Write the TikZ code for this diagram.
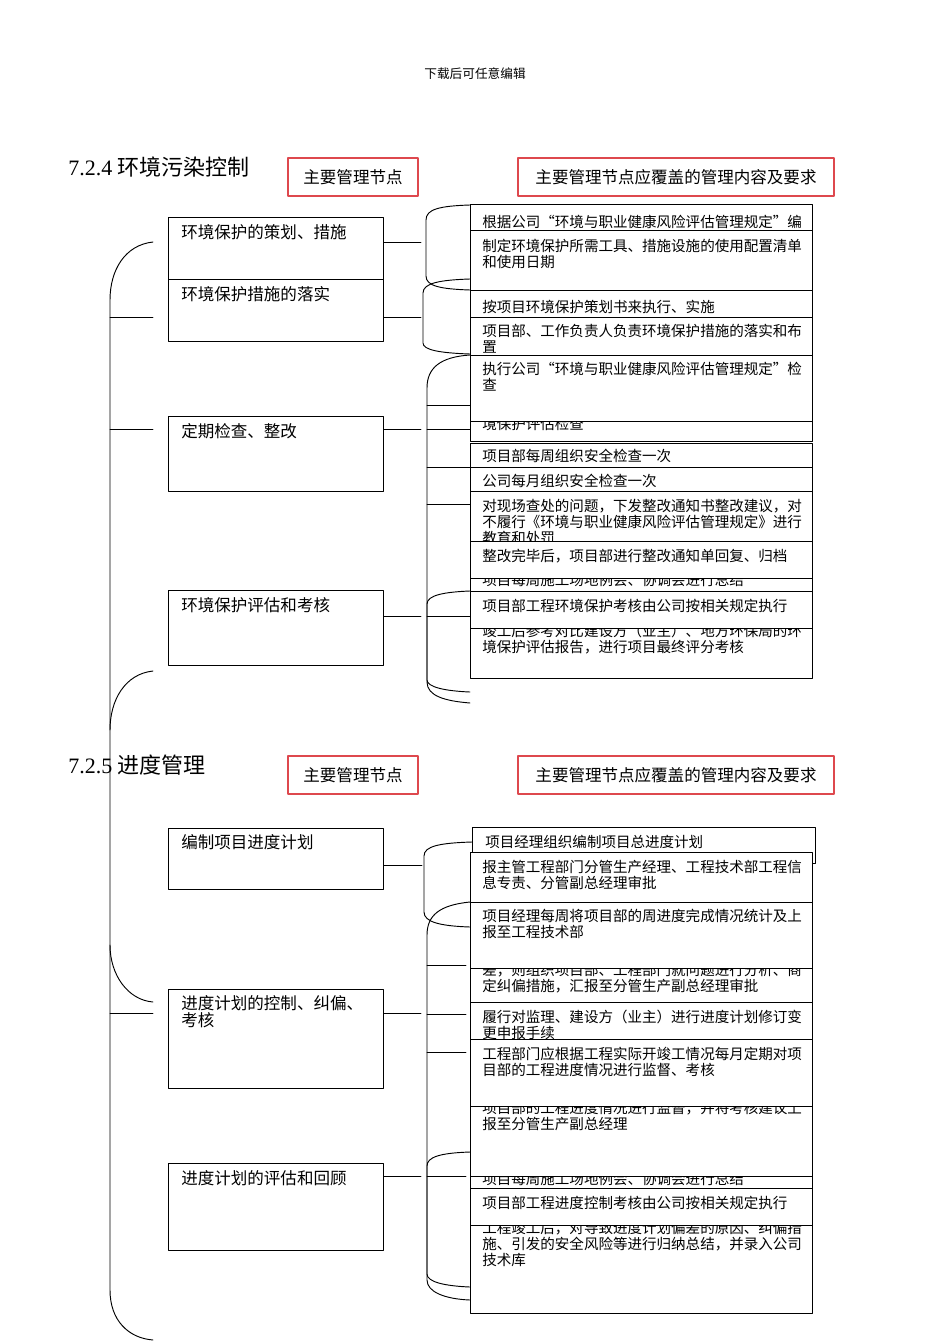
\documentclass[tikz,border=0pt]{standalone}
\usepackage{fontspec}
\setmainfont{Liberation Serif}
\newfontfamily\cjk{Noto Sans CJK SC}
\definecolor{headred}{RGB}{222,72,78}

% one box of the right-hand column: name, top, bottom, baseline, text
\newcommand\itembox[5]{%
  \draw[frame, fill=white] (470,#2) rectangle (812,#3);
  \node[itemtext] (#1) at (482,#4) {#5};}

\begin{document}
\begin{tikzpicture}[x=.75pt, y=-.75pt, line cap=round, line join=round,
  every node/.style={inner sep=0pt},
  frame/.style={line width=.7pt},
  headbox/.style={draw=headred, line width=.8pt, minimum height=28.5pt, font=\cjk\fontsize{12.4}{14}\selectfont},
  mainbox/.style={draw, line width=.7pt, anchor=north west, minimum width=161.25pt},
  nodetext/.style={anchor=base west, align=left, text width=150pt, font=\cjk\fontsize{12.4}{12.75}\selectfont},
  itemtext/.style={anchor=base west, align=left, text width=252pt, font=\cjk\fontsize{10.9}{12}\selectfont},
  title/.style={anchor=base west, font=\fontsize{16.5}{18}\selectfont}]
  \useasboundingbox[fill=white] (0,0) rectangle (950,1344);

  \node[font=\cjk\fontsize{9.5}{11}\selectfont] (note) at (475,74) {下载后可任意编辑};

  % 7.2.4
  \node[title] (secA) at (68,176) {7.2.4 {\cjk 环境污染控制}};
  \node[headbox, minimum width=97.5pt] (headA) at (353,177) {主要管理节点};
  \node[headbox, minimum width=237pt] (reqA) at (676,177) {主要管理节点应覆盖的管理内容及要求};

  \node[mainbox, minimum height=46.5pt] (envPlan) at (168,217) {};
  \node[nodetext] at (181,238.3) {环境保护的策划、措施};
  \node[mainbox, minimum height=46.5pt] (envDo) at (168,279) {};
  \node[nodetext] at (181,300.3) {环境保护措施的落实};
  \node[mainbox, minimum height=56.25pt] (envCheck) at (168,416) {};
  \node[nodetext] at (181,437.3) {定期检查、整改};
  \node[mainbox, minimum height=56.25pt] (envEval) at (168,590) {};
  \node[nodetext] at (181,611.3) {环境保护评估和考核};

  \itembox{planRule}{204}{240}{227.5}{根据公司“环境与职业健康风险评估管理规定”编}
  \itembox{planTools}{230}{297}{251.5}{制定环境保护所需工具、措施设施的使用配置清单\\和使用日期}
  \itembox{doExec}{290}{325}{312.5}{按项目环境保护策划书来执行、实施}
  \itembox{doStaff}{317}{365}{336.5}{项目部、工作负责人负责环境保护措施的落实和布\\置}
  \itembox{chkEval}{400}{441}{429.5}{境保护评估检查}
  \itembox{chkRule}{355}{421}{374.5}{执行公司“环境与职业健康风险评估管理规定”检\\查}
  \itembox{chkWeek}{443}{467}{461.5}{项目部每周组织安全检查一次}
  \itembox{chkMonth}{467}{491}{486.5}{公司每月组织安全检查一次}
  \itembox{chkIssue}{491}{551}{511.5}{对现场查处的问题，下发整改通知书整改建议，对\\不履行《环境与职业健康风险评估管理规定》进行\\教育和处罚}
  \itembox{chkMeet}{560}{591}{585.5}{项目每周施工场地例会、协调会进行总结}
  \itembox{chkClose}{541}{578}{561.5}{整改完毕后，项目部进行整改通知单回复、归档}
  \itembox{evalFinal}{615}{678}{636.5}{竣工后参考对比建设方（业主）、地方环保局的环\\境保护评估报告，进行项目最终评分考核}
  \itembox{evalRule}{591}{628}{611.5}{项目部工程环境保护考核由公司按相关规定执行}

  % braces on the right
  \draw[frame] (470,205) .. controls (440,206) and (426,209) .. (426,220) -- (426,276) .. controls (426,286) and (440,289) .. (470,290);
  \draw[frame] (470,279) .. controls (440,280) and (423,283) .. (423,293) -- (423,343) .. controls (423,350) and (440,353) .. (470,354);
  \draw[frame] (470,355) .. controls (440,357) and (427,368) .. (427,388) -- (427,682) .. controls (427,696) and (445,701) .. (470,703);
  \draw[frame] (470,591) .. controls (445,592) and (427,595) .. (427,604) -- (427,680) .. controls (427,687) and (445,691) .. (470,692);
  \foreach \y in {405,429,467,504,616}
    \draw[frame] (427,\y) -- (470,\y);

  \coordinate (jPlan) at (421,242);
  \coordinate (jDo) at (421,317);
  \coordinate (jCheck) at (421,429);
  \coordinate (jEval) at (421,616);
  \draw[frame] (envPlan.east |- jPlan) -- (jPlan);
  \draw[frame] (envDo.east |- jDo) -- (jDo);
  \draw[frame] (envCheck.east |- jCheck) -- (jCheck);
  \draw[frame] (envEval.east |- jEval) -- (jEval);

  % 7.2.5
  \node[title] (secB) at (68,773) {7.2.5 {\cjk 进度管理}};
  \node[headbox, minimum width=97.5pt] (headB) at (353,775) {主要管理节点};
  \node[headbox, minimum width=237pt] (reqB) at (676,775) {主要管理节点应覆盖的管理内容及要求};

  \node[mainbox, minimum height=45.75pt] (progMake) at (168,828) {};
  \node[nodetext] at (181,848.3) {编制项目进度计划};
  \node[mainbox, minimum height=74.25pt] (progCtrl) at (168,989) {};
  \node[nodetext] at (181,1009.3) {进度计划的控制、纠偏、\\考核};
  \node[mainbox, minimum height=65.25pt] (progRev) at (168,1163) {};
  \node[nodetext] at (181,1184.3) {进度计划的评估和回顾};

  \draw[frame, fill=white] (472,827) rectangle (815,863);
  \node[itemtext] (progPlan) at (485,847.5) {项目经理组织编制项目总进度计划};
  \itembox{progApprove}{852}{902}{872.5}{报主管工程部门分管生产经理、工程技术部工程信\\息专责、分管副总经理审批}
  \itembox{progAdjust}{950}{1010}{975.5}{差，则组织项目部、工程部门就问题进行分析、商\\定纠偏措施，汇报至分管生产副总经理审批}
  \itembox{progWeekly}{902}{968}{921.5}{项目经理每周将项目部的周进度完成情况统计及上\\报至工程技术部}
  \itembox{progRevise}{1002}{1045}{1022.5}{履行对监理、建设方（业主）进行进度计划修订变\\更申报手续}
  \itembox{progMeet}{1160}{1200}{1184.5}{项目每周施工场地例会、协调会进行总结}
  \itembox{progReport}{1090}{1176}{1113.5}{项目部的工程进度情况进行监督，并将考核建议上\\报至分管生产副总经理}
  \itembox{progMonthly}{1039}{1106}{1059.5}{工程部门应根据工程实际开竣工情况每月定期对项\\目部的工程进度情况进行监督、考核}
  \itembox{progReview}{1215}{1313}{1233.5}{工程竣工后，对导致进度计划偏差的原因、纠偏措\\施、引发的安全风险等进行归纳总结，并录入公司\\技术库}
  \itembox{progRule}{1188}{1225}{1208.5}{项目部工程进度控制考核由公司按相关规定执行}

  \draw[frame] (472,842) .. controls (440,843) and (424,846) .. (424,856) -- (424,912) .. controls (424,922) and (440,926) .. (470,927);
  \draw[frame] (470,902) .. controls (440,905) and (427,915) .. (427,935) -- (427,1280) .. controls (427,1292) and (445,1299) .. (470,1300);
  \draw[frame] (470,1152) .. controls (440,1153) and (427,1157) .. (427,1166) -- (427,1274) .. controls (427,1282) and (445,1286) .. (470,1287);
  \foreach \y in {965,1014,1052,1176}
    \draw[frame] (427,\y) -- (466,\y);

  \coordinate (jMake) at (422,865);
  \coordinate (jCtrl) at (421,1013);
  \coordinate (jRev) at (421,1176);
  \draw[frame] (progMake.east |- jMake) -- (jMake);
  \draw[frame] (progCtrl.east |- jCtrl) -- (jCtrl);
  \draw[frame] (progRev.east |- jRev) -- (jRev);

  % big braces on the left
  \draw[frame] (153,242) .. controls (125,245) and (110,270) .. (110,300) -- (110,1290) .. controls (110,1320) and (128,1338) .. (153,1340);
  \draw[frame] (153,671) .. controls (125,674) and (110,700) .. (110,730);
  \draw[frame] (110,945) .. controls (110,975) and (128,1000) .. (153,1002);
  \foreach \y in {317,429,1013}
    \draw[frame] (110,\y) -- (153,\y);
\end{tikzpicture}
\end{document}
